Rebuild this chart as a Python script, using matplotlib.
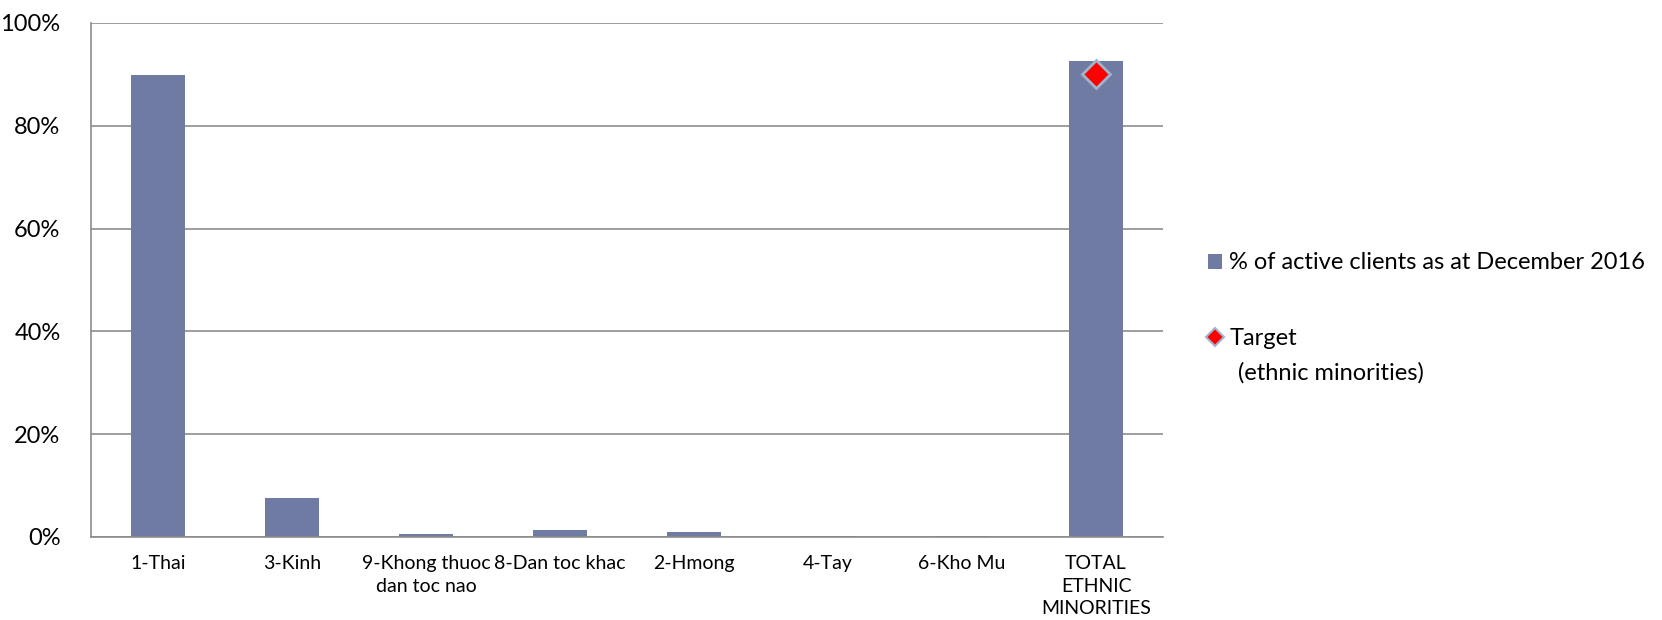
import matplotlib.pyplot as plt
from matplotlib.lines import Line2D
from matplotlib.patches import Patch

# share of active clients by ethnic group, December 2016
groups = ["1-Thai", "3-Kinh", "9-Khong thuoc\ndan toc nao", "8-Dan toc khac",
          "2-Hmong", "4-Tay", "6-Kho Mu", "TOTAL\nETHNIC\nMINORITIES"]
share = [89.8, 7.6, 0.6, 1.4, 1.0, 0.1, 0.1, 92.5]
target_group = "TOTAL\nETHNIC\nMINORITIES"
target_value = 90.0

bar_color = "#6f7ba3"
grid_color = "#8c8c8c"

plt.rcParams['font.family'] = ['Lato', 'DejaVu Sans']

fig = plt.figure(figsize=(16.62, 6.2), dpi=100)
ax = fig.add_axes([0.0548, 0.134, 0.645, 0.829])

x = list(range(len(groups)))
ax.bar(x, share, width=0.4, color=bar_color, zorder=2)
ax.plot([groups.index(target_group)], [target_value], linestyle="none",
        marker="D", markersize=14, markerfacecolor="#ff0000",
        markeredgecolor="#9fb4cc", markeredgewidth=2, zorder=3)

ax.set_xlim(-0.5, len(groups) - 0.5)
ax.set_ylim(0, 100)
ax.set_yticks([0, 20, 40, 60, 80, 100])
ax.set_yticklabels(["0%", "20%", "40%", "60%", "80%", "100%"], fontsize=17)
ax.set_xticks(x)
ax.set_xticklabels(groups, fontsize=14, linespacing=1.4)
ax.tick_params(axis="y", length=0, pad=22)
ax.tick_params(axis="x", length=0, pad=13)

ax.yaxis.grid(True, color=grid_color, linewidth=1.2, zorder=0)
for s in ["top", "right"]:
    ax.spines[s].set_visible(False)
ax.spines["left"].set_color(grid_color)
ax.spines["bottom"].set_color(grid_color)
ax.spines["left"].set_linewidth(1.2)
ax.spines["bottom"].set_linewidth(1.2)

handles = [
    Patch(facecolor=bar_color, edgecolor="none"),
    Line2D([], [], linestyle="none", marker="D", markersize=9,
           markerfacecolor="#ff0000", markeredgecolor="#9fb4cc", markeredgewidth=1.5),
]
fig.legend(handles, ["% of active clients as at December 2016", "Target"],
           loc="upper left", bbox_to_anchor=(0.7212, 0.608), frameon=False,
           fontsize=17, handlelength=0.6, handleheight=0.6,
           handletextpad=0.3, labelspacing=2.3, borderaxespad=0)
fig.text(0.745, 0.398, "(ethnic minorities)", fontsize=17, va="center", ha="left")

fig.savefig("out.png", dpi=100)
